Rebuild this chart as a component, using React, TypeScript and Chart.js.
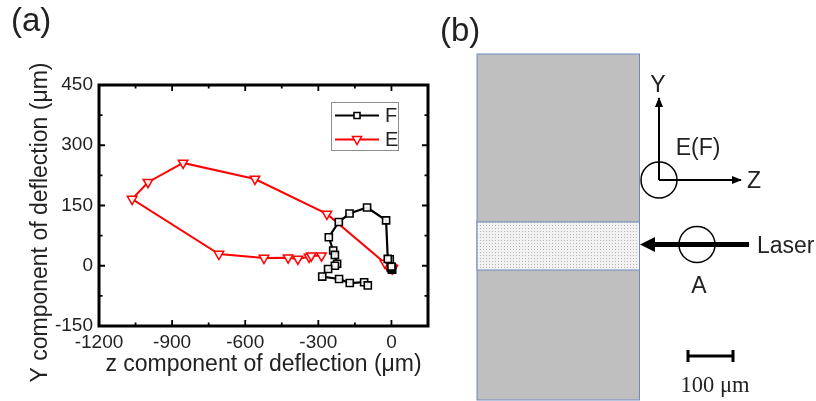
import React, { useEffect, useRef } from "react";
import { Chart, registerables } from "chart.js";

Chart.register(...registerables);

const FONT = "'Liberation Sans', Arial, sans-serif";
const INK = "#222222";

const seriesFLabel = "F";
const seriesELabel = "E";
const seriesFZ = [3, 1, -2, 0, -7, -15, -22, -100, -172, -216, -257, -239, -232, -223, -232, -260, -284, -215, -171, -112, -97];
const seriesFY = [-10, -8, -5, -2, 16, 17, 113, 145, 130, 109, 71, 38, 27, 5, 0, -8, -27, -33, -43, -41, -49];
const seriesEZ = [5, 3, 1, -2, -6, -12, -18, -27, -265, -560, -855, -999, -1064, -708, -523, -424, -384, -338, -329, -287];
const seriesEY = [-7, -6, -5, -4, -2, 0, 2, 7, 129, 216, 256, 208, 166, 29, 19, 20, 17, 22, 25, 25];

const xAxisTitle = "z component of deflection (\u03bcm)";
const yAxisTitle = "Y component of deflection (\u03bcm)";

const toPoints = (xs: number[], ys: number[]) => xs.map((x, i) => ({ x, y: ys[i] }));

const decorations = {
  id: "decorations",
  afterDatasetsDraw(chart: any) {
    const { ctx, chartArea: a, scales } = chart;
    const { x, y } = scales;
    ctx.save();
    ctx.strokeStyle = "#000";
    ctx.lineWidth = 3;
    ctx.strokeRect(a.left, a.top, a.right - a.left, a.bottom - a.top);
    ctx.lineWidth = 1.8;
    ctx.beginPath();
    x.ticks.forEach((t: any) => {
      const p = x.getPixelForValue(t.value);
      const len = t.value % 300 === 0 ? 6 : 3.5;
      ctx.moveTo(p, a.bottom);
      ctx.lineTo(p, a.bottom - len);
      ctx.moveTo(p, a.top);
      ctx.lineTo(p, a.top + len);
    });
    y.ticks.forEach((t: any) => {
      const p = y.getPixelForValue(t.value);
      const len = t.value % 150 === 0 ? 6 : 3.5;
      ctx.moveTo(a.left, p);
      ctx.lineTo(a.left + len, p);
      ctx.moveTo(a.right, p);
      ctx.lineTo(a.right - len, p);
    });
    ctx.stroke();
    ctx.fillStyle = INK;
    ctx.font = `23px ${FONT}`;
    ctx.textAlign = "center";
    ctx.textBaseline = "middle";
    ctx.translate(41, 222.5);
    ctx.rotate(-Math.PI / 2);
    ctx.fillText(yAxisTitle, 0, 0);
    ctx.restore();

    ctx.save();
    ctx.fillStyle = "#fff";
    ctx.strokeStyle = "#8c8c8c";
    ctx.lineWidth = 1;
    ctx.fillRect(331.5, 102.5, 67, 48);
    ctx.strokeRect(331.5, 102.5, 67, 48);
    ctx.font = `20px ${FONT}`;
    ctx.textBaseline = "middle";
    ctx.textAlign = "left";
    chart.data.datasets.forEach((d: any, i: number) => {
      const ly = 115.5 + i * 24;
      ctx.strokeStyle = d.borderColor;
      ctx.lineWidth = d.borderWidth;
      ctx.beginPath();
      ctx.moveTo(335, ly);
      ctx.lineTo(379, ly);
      ctx.stroke();
      ctx.fillStyle = "#fff";
      ctx.lineWidth = d.pointBorderWidth;
      ctx.beginPath();
      if (i === 0) {
        ctx.rect(354, ly - 3, 6, 6);
      } else {
        ctx.moveTo(352.5, ly - 3);
        ctx.lineTo(361.5, ly - 3);
        ctx.lineTo(357, ly + 5);
        ctx.closePath();
      }
      ctx.fill();
      ctx.stroke();
      ctx.fillStyle = INK;
      ctx.fillText(d.label, 385, ly + 1);
    });
    ctx.restore();
  },
};

function PanelB() {
  const txt = { fontFamily: FONT, fill: INK } as const;
  return (
    <svg width={816} height={401} style={{ position: "absolute", left: 0, top: 0, pointerEvents: "none" }}>
      <defs>
        <pattern id="stipple" width="3" height="3" patternUnits="userSpaceOnUse">
          <rect width="3" height="3" fill="#f2f2f2" />
          <rect width="1" height="1" fill="#b5b5b5" />
        </pattern>
        <marker id="head" markerWidth="10" markerHeight="8" refX="9" refY="4" orient="auto" markerUnits="userSpaceOnUse">
          <path d="M0 0 L10 4 L0 8 Z" fill="#000" />
        </marker>
      </defs>
      <text x={11} y={31} fontSize={33} {...txt}>(a)</text>
      <text x={440} y={41} fontSize={33} {...txt}>(b)</text>
      <rect x={477} y={54} width={162.5} height={346} fill="#bfbfbf" stroke="#6f8bbd" />
      <rect x={477} y={222} width={162.5} height={48} fill="url(#stipple)" stroke="#6f8bbd" />
      <line x1={659} y1={180} x2={659} y2={98} stroke="#000" strokeWidth={2} markerEnd="url(#head)" />
      <line x1={659} y1={180} x2={741} y2={180} stroke="#000" strokeWidth={2} markerEnd="url(#head)" />
      <circle cx={659} cy={180} r={18} fill="none" stroke="#000" strokeWidth={1.5} />
      <circle cx={697} cy={244.5} r={18} fill="none" stroke="#000" strokeWidth={1.5} />
      <line x1={654} y1={244.5} x2={749} y2={244.5} stroke="#000" strokeWidth={5} />
      <path d="M640 244.5 L655 237 L655 252 Z" fill="#000" />
      <text x={658} y={92} fontSize={23} textAnchor="middle" {...txt}>Y</text>
      <text x={698} y={155} fontSize={23} textAnchor="middle" {...txt}>E(F)</text>
      <text x={754} y={188} fontSize={23} textAnchor="middle" {...txt}>Z</text>
      <text x={757} y={253} fontSize={23} {...txt}>Laser</text>
      <text x={699} y={293} fontSize={23} textAnchor="middle" {...txt}>A</text>
      <path d="M688 356 H733" stroke="#000" strokeWidth={3} fill="none" />
      <path d="M688 350 V362 M733 350 V362" stroke="#000" strokeWidth={3} fill="none" />
      <text x={715} y={392} fontSize={22.5} textAnchor="middle" fontFamily="'Liberation Serif', serif" fill={INK}>100 μm</text>
    </svg>
  );
}

export default function App() {
  const ref = useRef<HTMLCanvasElement>(null);
  useEffect(() => {
    const chart = new Chart(ref.current!, {
      type: "line",
      data: {
        datasets: [
          {
            label: seriesFLabel,
            data: toPoints(seriesFZ, seriesFY),
            borderColor: "#000000",
            borderWidth: 2.2,
            pointStyle: "rect",
            pointRadius: 5,
            pointBackgroundColor: "rgba(255,255,255,0.9)",
            pointBorderColor: "#000000",
            pointBorderWidth: 1.6,
            tension: 0,
          },
          {
            label: seriesELabel,
            data: toPoints(seriesEZ, seriesEY),
            borderColor: "#ff0000",
            borderWidth: 2,
            pointStyle: "triangle",
            pointRotation: 180,
            pointRadius: 5.5,
            pointBackgroundColor: "rgba(255,255,255,0.9)",
            pointBorderColor: "#ff0000",
            pointBorderWidth: 1.5,
            tension: 0,
          },
        ],
      },
      options: {
        animation: false,
        responsive: false,
        parsing: false as any,
        layout: { padding: { left: 0, top: 85, right: 388, bottom: 0 } },
        plugins: { legend: { display: false }, tooltip: { enabled: false } },
        scales: {
          x: {
            type: "linear",
            min: -1200,
            max: 150,
            afterFit: (s: any) => { s.height = 75; },
            border: { display: false },
            grid: { display: false, drawTicks: false },
            ticks: {
              stepSize: 150,
              autoSkip: false,
              maxRotation: 0,
              padding: 5,
              color: INK,
              font: { family: FONT, size: 19 },
              callback: (v: any) => (Number(v) % 300 === 0 && Number(v) <= 0 ? String(v) : ""),
            },
            title: {
              display: true,
              text: xAxisTitle,
              color: INK,
              font: { family: FONT, size: 23 },
              padding: { top: 0, bottom: 23 },
            },
          },
          y: {
            type: "linear",
            min: -150,
            max: 450,
            afterFit: (s: any) => { s.width = 99; },
            border: { display: false },
            grid: { display: false, drawTicks: false },
            ticks: {
              stepSize: 75,
              autoSkip: false,
              padding: 6,
              color: INK,
              font: { family: FONT, size: 19 },
              callback: (v: any) => (Number(v) % 150 === 0 ? String(v) : ""),
            },
          },
        },
      },
      plugins: [decorations],
    } as any);
    return () => chart.destroy();
  }, []);
  return (
    <div style={{ position: "absolute", left: 0, top: 0, width: 816, height: 401, background: "#fff", overflow: "hidden" }}>
      <canvas ref={ref} width={816} height={401} style={{ display: "block" }} />
      <PanelB />
    </div>
  );
}
